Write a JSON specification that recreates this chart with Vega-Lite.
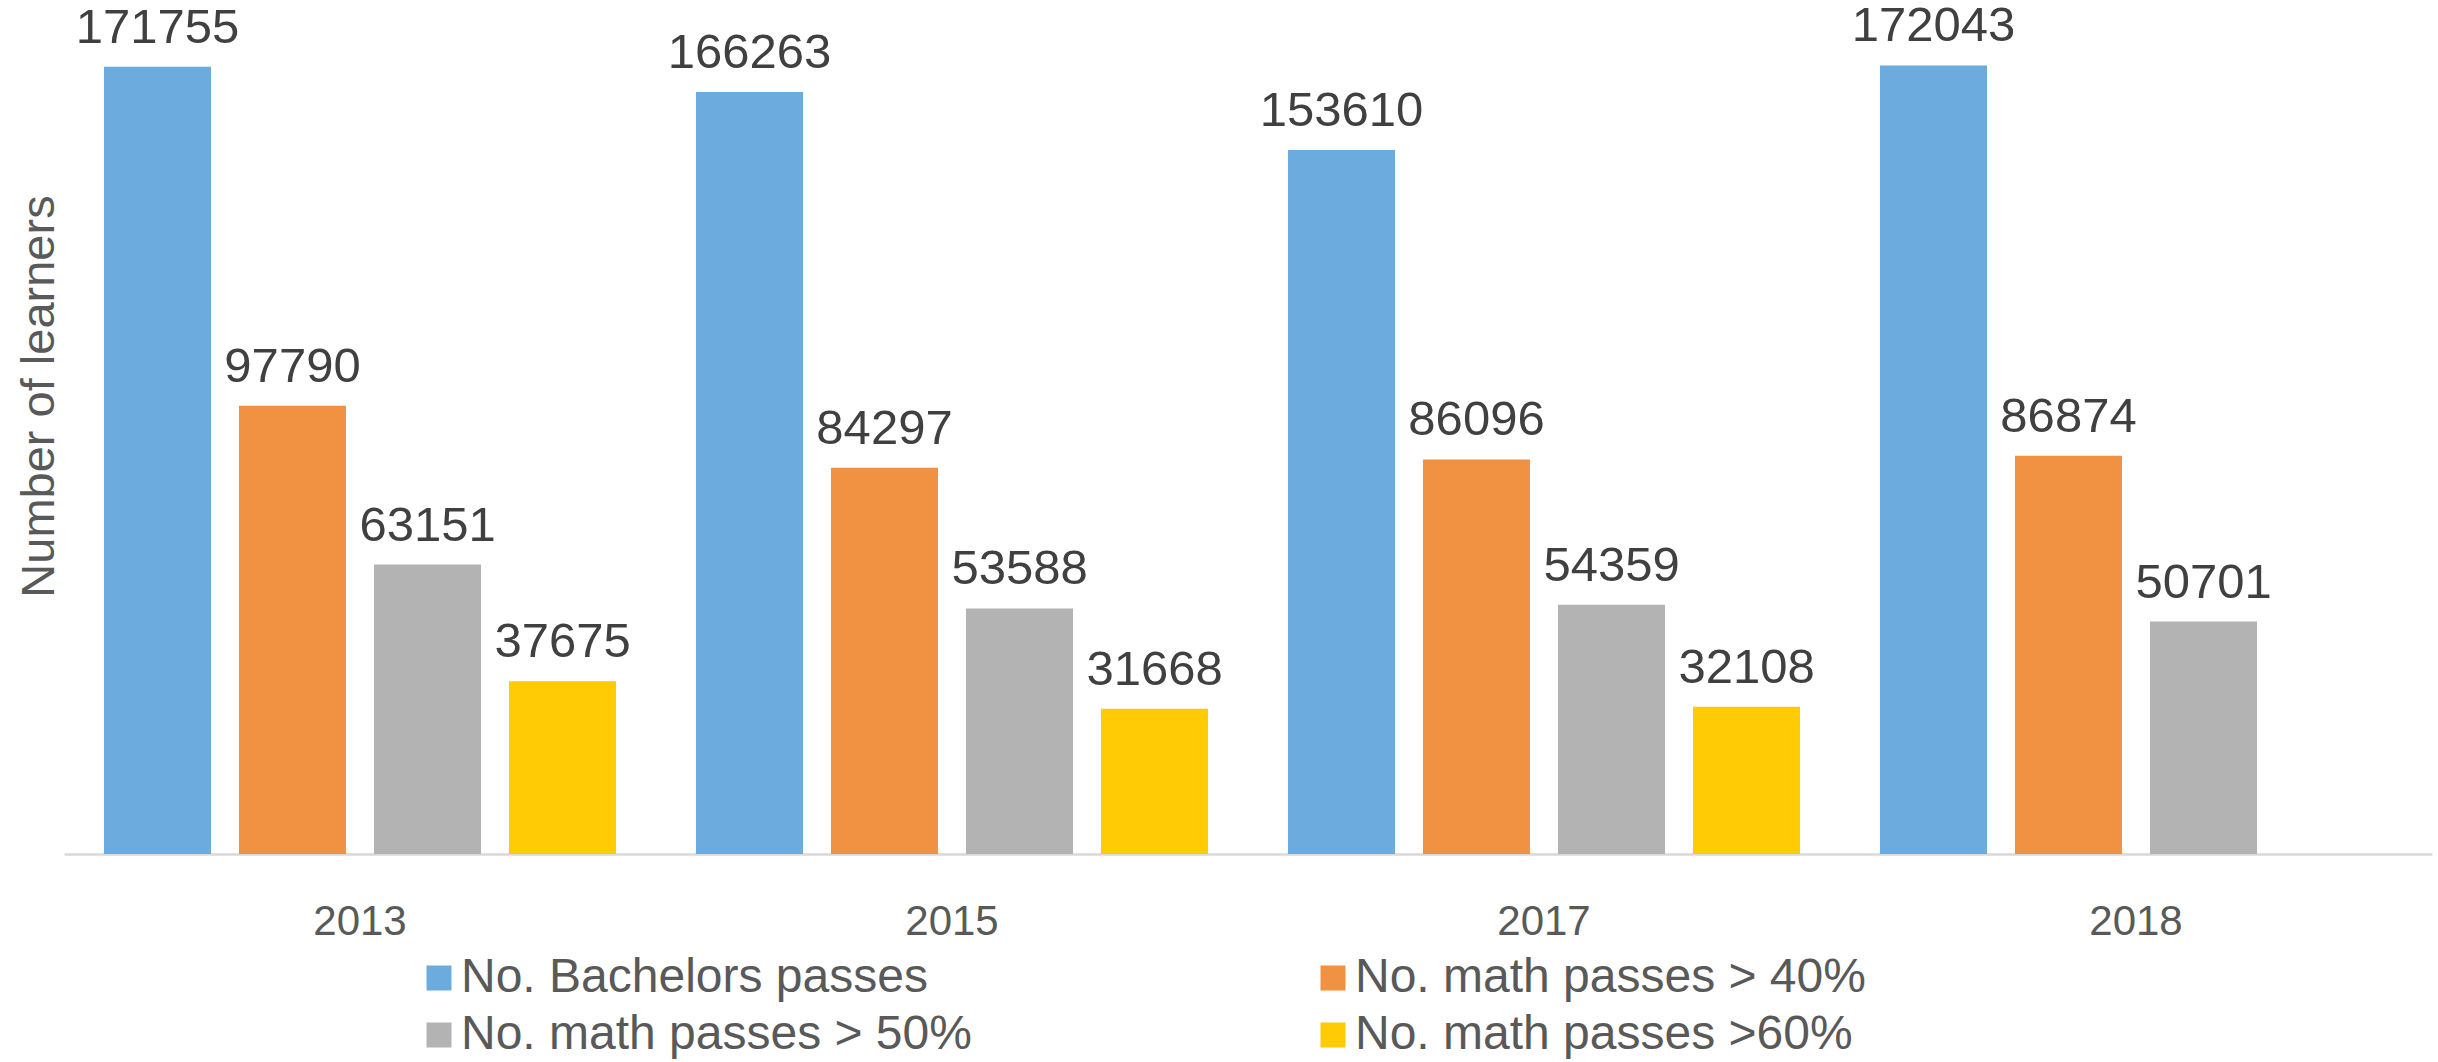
{
  "$schema": "https://vega.github.io/schema/vega-lite/v6.json",
  "width": 2368,
  "height": 825,
  "autosize": {"type": "none"},
  "padding": {"left": 64, "top": 29, "right": 6, "bottom": 208},
  "background": "white",
  "config": {
    "view": {"stroke": null},
    "font": "Liberation Sans"
  },
  "data": {
    "values": [
      {"year": "2013", "series": "No. Bachelors passes", "value": 171755},
      {"year": "2013", "series": "No. math passes > 40%", "value": 97790},
      {"year": "2013", "series": "No. math passes > 50%", "value": 63151},
      {"year": "2013", "series": "No. math passes >60%", "value": 37675},
      {"year": "2015", "series": "No. Bachelors passes", "value": 166263},
      {"year": "2015", "series": "No. math passes > 40%", "value": 84297},
      {"year": "2015", "series": "No. math passes > 50%", "value": 53588},
      {"year": "2015", "series": "No. math passes >60%", "value": 31668},
      {"year": "2017", "series": "No. Bachelors passes", "value": 153610},
      {"year": "2017", "series": "No. math passes > 40%", "value": 86096},
      {"year": "2017", "series": "No. math passes > 50%", "value": 54359},
      {"year": "2017", "series": "No. math passes >60%", "value": 32108},
      {"year": "2018", "series": "No. Bachelors passes", "value": 172043},
      {"year": "2018", "series": "No. math passes > 40%", "value": 86874},
      {"year": "2018", "series": "No. math passes > 50%", "value": 50701}
    ]
  },
  "encoding": {
    "x": {
      "field": "year",
      "type": "nominal",
      "scale": {"paddingInner": 0, "paddingOuter": 0},
      "axis": {
        "title": null,
        "labelAngle": 0,
        "labelFont": "Liberation Sans",
        "labelFontSize": 42,
        "labelColor": "#595959",
        "labelPadding": 47,
        "ticks": false,
        "tickSize": 0,
        "domainColor": "#D9D9D9",
        "domainWidth": 2.5,
        "grid": false
      }
    },
    "xOffset": {
      "field": "series",
      "type": "nominal",
      "scale": {
        "domain": ["No. Bachelors passes", "No. math passes > 40%", "No. math passes > 50%", "No. math passes >60%"],
        "paddingInner": 0.207,
        "paddingOuter": 0.296
      }
    },
    "y": {
      "field": "value",
      "type": "quantitative",
      "scale": {"domain": [0, 180000], "nice": false, "zero": true},
      "axis": {
        "title": "Number of learners",
        "titleFont": "Liberation Sans",
        "titleFontSize": 47,
        "titleFontWeight": "normal",
        "titleColor": "#595959",
        "titleAngle": -90,
        "titleAlign": "center",
        "titleBaseline": "alphabetic",
        "titleX": -11,
        "titleY": 367,
        "labels": false,
        "ticks": false,
        "domain": false,
        "grid": false
      }
    }
  },
  "layer": [
    {
      "mark": {"type": "bar"},
      "encoding": {
        "color": {
          "field": "series",
          "type": "nominal",
          "scale": {
            "domain": ["No. Bachelors passes", "No. math passes > 40%", "No. math passes > 50%", "No. math passes >60%"],
            "range": ["#6CABDD", "#F19242", "#B3B3B3", "#FFCB05"]
          },
          "legend": {
            "title": null,
            "orient": "none",
            "legendX": 351,
            "legendY": 925,
            "direction": "horizontal",
            "columns": 2,
            "padding": 0,
            "columnPadding": 337,
            "rowPadding": 9,
            "symbolType": "square",
            "symbolSize": 625,
            "symbolStrokeWidth": 0,
            "labelFont": "Liberation Sans",
            "labelFontSize": 48,
            "labelColor": "#595959",
            "labelOffset": -2,
            "labelLimit": 2000
          }
        }
      }
    },
    {
      "mark": {
        "type": "text",
        "baseline": "alphabetic",
        "align": "center",
        "dy": -24,
        "font": "Liberation Sans",
        "fontSize": 49,
        "color": "#404040"
      },
      "encoding": {
        "text": {"field": "value", "type": "quantitative", "format": "d"}
      }
    }
  ]
}
